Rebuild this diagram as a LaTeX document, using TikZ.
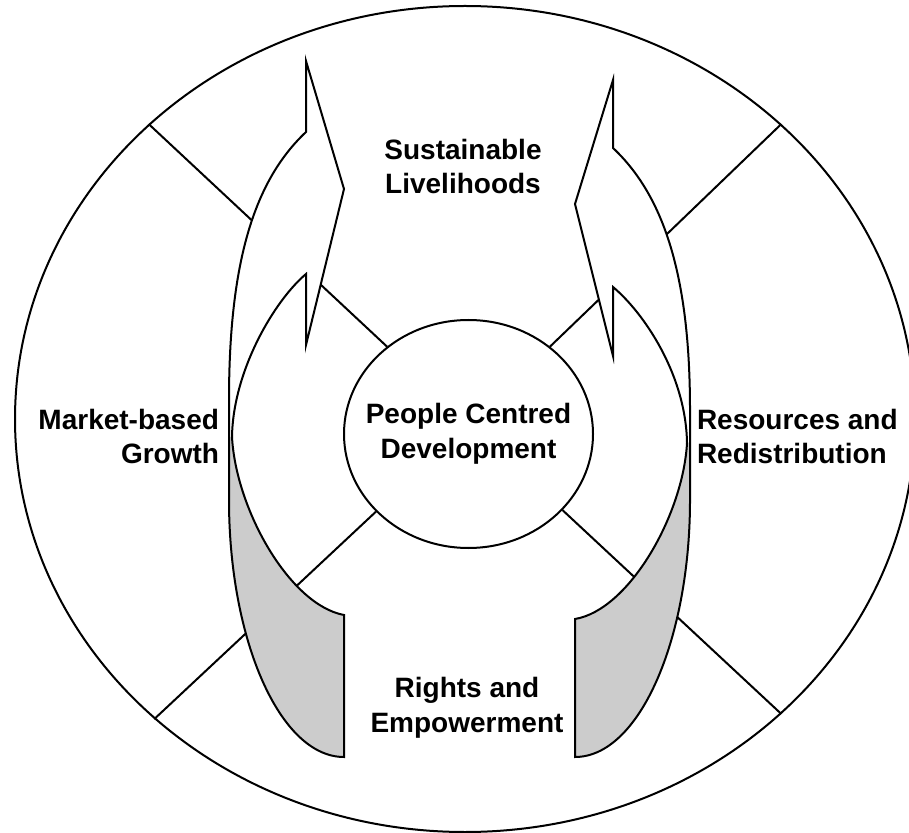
\documentclass[tikz,border=0pt]{standalone}
\usepackage{fontspec}
\setmainfont{Liberation Sans}
\usepackage{tikz}
\usetikzlibrary{shapes.geometric}
\definecolor{backgrey}{RGB}{204, 204, 204}

\begin{document}
\begin{tikzpicture}[x=0.5pt, y=-0.5pt, line width=1pt,
    tag/.style={font=\fontsize{14}{17.3}\selectfont\bfseries, inner sep=0pt}]
    \useasboundingbox (0,0) rectangle (909,833);

    % Outer wheel
    \node[ellipse, draw, minimum width=450pt, minimum height=413pt, inner sep=0pt] (wheel) at (465,419) {};

    % Centre
    \node[ellipse, draw, minimum width=124.5pt, minimum height=114pt, inner sep=0pt] (hub) at (468.5,434) {};
    \node[tag, align=center] (people) at (hub) {People Centred\\Development};

    % Spokes
    \draw (hub.133) -- (wheel.137);
    \draw (hub.47) -- (wheel.43);
    \draw (hub.220) -- (wheel.224);
    \draw (hub.321) -- (wheel.317);

    % Left ribbon arrow
    \fill[white] (306,61) -- (344,189) -- (306,345) -- (306,274)
        .. controls (275,300) and (233,370) .. (232,437)
        -- (229,437) -- (229,400)
        .. controls (229,260) and (255,180) .. (306,132) -- cycle;
    \fill[backgrey] (232,437) .. controls (236,510) and (290,605) .. (344,615)
        -- (344,757) .. controls (280,757) and (229,640) .. (229,500) -- (229,437) -- cycle;
    \draw (306,132) -- (306,61) -- (344,189) -- (306,345) -- (306,274)
        .. controls (275,300) and (233,370) .. (232,437)
        .. controls (236,510) and (290,605) .. (344,615)
        -- (344,757) .. controls (280,757) and (229,640) .. (229,500)
        -- (229,400) .. controls (229,260) and (255,180) .. (306,132) -- cycle;

    % Right ribbon arrow
    \fill[white] (613,80) -- (575,204) -- (613,356) -- (613,287)
        .. controls (644,313) and (686,375) .. (687,443)
        -- (690,443) -- (690,410)
        .. controls (690,276) and (664,196) .. (613,148) -- cycle;
    \fill[backgrey] (687,443) .. controls (683,515) and (629,610) .. (575,619)
        -- (575,757) .. controls (639,757) and (690,640) .. (690,500) -- (690,443) -- cycle;
    \draw (613,148) -- (613,80) -- (575,204) -- (613,356) -- (613,287)
        .. controls (644,313) and (686,375) .. (687,443)
        .. controls (683,515) and (629,610) .. (575,619)
        -- (575,757) .. controls (639,757) and (690,640) .. (690,500)
        -- (690,410) .. controls (690,276) and (664,196) .. (613,148) -- cycle;

    % Labels
    \node[tag, align=center] (livelihoods) at (463,166.5) {Sustainable\\Livelihoods};
    \node[tag, align=right, anchor=east] (market) at (220,436.5) {Market-based\\Growth};
    \node[tag, align=left, anchor=west] (resources) at (696,436.5) {Resources and\\Redistribution};
    \node[tag, align=center] (rights) at (467,708) {Rights and\\Empowerment};
\end{tikzpicture}
\end{document}
